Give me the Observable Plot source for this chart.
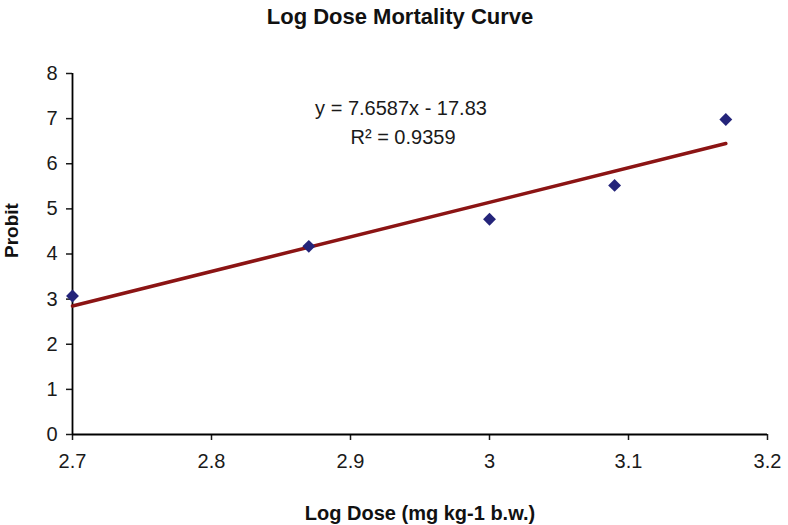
<!DOCTYPE html>
<html>
<head>
<meta charset="utf-8">
<script src="https://cdn.jsdelivr.net/npm/d3@7"></script>
<script src="https://cdn.jsdelivr.net/npm/@observablehq/plot@0.6"></script>
<style>
  html, body { margin: 0; padding: 0; background: #fff; }
  #chart svg { display: block; }
</style>
</head>
<body>
<div id="chart"></div>
<script>
const logDose = [2.7, 2.87, 3.0, 3.09, 3.17];
const probit = [3.07, 4.17, 4.77, 5.52, 6.98];

// Trend line end points (from y = 7.6587x - 17.83)
const trendX = [2.7, 3.17];
const trendY = [2.848, 6.448];

// Axis ticks
const xTicks = [2.7, 2.8, 2.9, 3.0, 3.1, 3.2];
const xTickLabels = ["2.7", "2.8", "2.9", "3", "3.1", "3.2"];
const yTicks = [0, 1, 2, 3, 4, 5, 6, 7, 8];

// Texts
const titleText = "Log Dose Mortality Curve";
const xLabel = "Log Dose (mg kg-1 b.w.)";
const yLabel = "Probit";
const eqLines = ["y = 7.6587x - 17.83", "R\u00B2 = 0.9359"];

const points = logDose.map((x, i) => ({x, y: probit[i]}));
const trend = trendX.map((x, i) => ({x, y: trendY[i]}));

const font = "'Liberation Sans', Arial, sans-serif";

const chart = Plot.plot({
  width: 788,
  height: 525,
  marginLeft: 72,
  marginRight: 21,
  marginTop: 73,
  marginBottom: 91,
  style: {fontFamily: font, color: "#1a1a1a", background: "#fff"},
  x: {domain: [2.7, 3.2]},
  y: {domain: [0, 8]},
  marks: [
    Plot.axisX({ticks: xTicks, tickFormat: (d, i) => xTickLabels[i], tickSize: 6, tickPadding: 13, fontSize: 20, label: null, strokeWidth: 1.5}),
    Plot.axisY({ticks: yTicks, tickSize: 6, tickPadding: 9, fontSize: 20, label: null, strokeWidth: 1.5}),
    Plot.ruleY([0], {stroke: "#000", strokeWidth: 1.8}),
    Plot.ruleX([2.7], {stroke: "#000", strokeWidth: 1.8}),
    Plot.line(trend, {x: "x", y: "y", stroke: "#8b1414", strokeWidth: 3.5}),
    Plot.dot(points, {x: "x", y: "y", symbol: "diamond2", r: 5.8, fill: "#24247a", stroke: "none"}),
    Plot.text([eqLines[0]], {frameAnchor: "top", dx: -19, dy: 35, fontSize: 20, fill: "#1a1a1a", lineAnchor: "middle"}),
    Plot.text([eqLines[1]], {frameAnchor: "top", dx: -17, dy: 64, fontSize: 20, fill: "#1a1a1a", lineAnchor: "middle"}),
    Plot.text([titleText], {frameAnchor: "top", dx: -20, dy: -57, fontSize: 22, fontWeight: "bold", fill: "#111", lineAnchor: "middle"}),
    Plot.text([xLabel], {frameAnchor: "bottom", dy: 79, fontSize: 20, fontWeight: "bold", fill: "#111", lineAnchor: "middle"}),
    Plot.text([yLabel], {frameAnchor: "left", dx: -61, dy: 4, rotate: -90, fontSize: 19, fontWeight: "bold", fill: "#111", lineAnchor: "middle"})
  ]
});

document.getElementById("chart").appendChild(chart);
// make sure the tick labels use the larger size
d3.select(chart).selectAll('g[aria-label$="tick label"]').attr("font-size", 20).selectAll("text").attr("font-size", 20);
</script>
</body>
</html>
